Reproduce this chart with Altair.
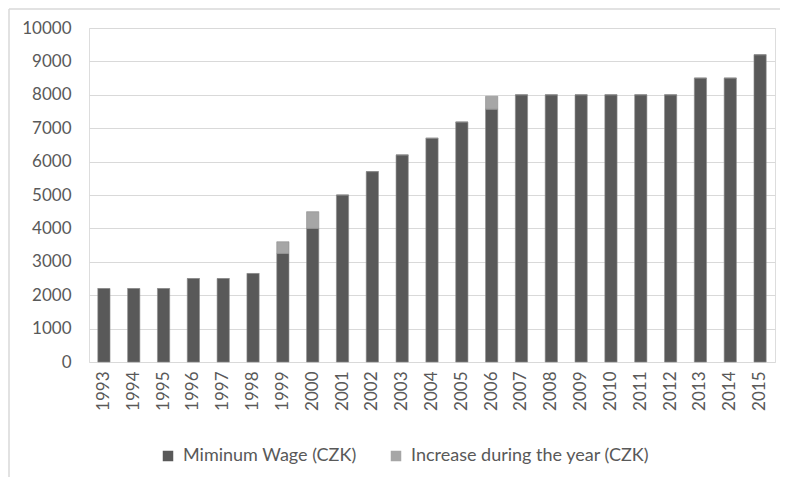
import altair as alt
import pandas as pd

years = [str(y) for y in range(1993, 2016)]
min_wage = [2200, 2200, 2200, 2500, 2500, 2650, 3250, 4000, 5000, 5700, 6200, 6700,
            7185, 7570, 8000, 8000, 8000, 8000, 8000, 8000, 8500, 8500, 9200]
increase = [0, 0, 0, 0, 0, 0, 350, 500, 0, 0, 0, 0,
            0, 385, 0, 0, 0, 0, 0, 0, 0, 0, 0]
series_names = ["Miminum Wage (CZK)", "Increase during the year (CZK)"]
series_colors = ["#595959", "#a6a6a6"]
y_ticks = list(range(0, 10001, 1000))

rows = []
for y, w, inc in zip(years, min_wage, increase):
    rows.append({"year": y, "series": series_names[0], "value": w, "ord": 0})
    rows.append({"year": y, "series": series_names[1], "value": inc, "ord": 1})
df = pd.DataFrame(rows)

FONT = "Lato"
W, H = 686, 334

bars = alt.Chart(df).mark_bar(stroke="#8c8c8c", strokeWidth=0.6).encode(
    x=alt.X("year:N", sort=years, title=None,
            scale=alt.Scale(paddingInner=0.59, paddingOuter=0.295),
            axis=alt.Axis(labelAngle=-90, ticks=False, domain=False, labelPadding=9,
                          labelFontSize=17, labelColor="#595959", labelFont=FONT)),
    y=alt.Y("value:Q", stack="zero", title=None,
            scale=alt.Scale(domain=[0, 10000], nice=False),
            axis=alt.Axis(values=y_ticks, format="d", ticks=False, domain=False, labelPadding=18,
                          labelFontSize=17, labelColor="#595959", labelFont=FONT,
                          gridColor="#d9d9d9", gridWidth=1)),
    color=alt.Color("series:N", sort=series_names,
                    scale=alt.Scale(domain=series_names, range=series_colors),
                    legend=alt.Legend(title=None, orient="none", direction="horizontal",
                                      legendX=70, legendY=419, symbolType="square",
                                      symbolSize=110, symbolStrokeWidth=0,
                                      labelFontSize=18, labelColor="#595959", labelFont=FONT,
                                      labelLimit=500, labelOffset=6, columnPadding=30)),
    order=alt.Order("ord:Q", sort="ascending"),
)

frame = alt.Data(values=[{}])
left_line = alt.Chart(frame).mark_rule(color="#d9d9d9", strokeWidth=1.5).encode(
    x=alt.value(-80), y=alt.value(-19), y2=alt.value(H + 115))
top_line = alt.Chart(frame).mark_rule(color="#d9d9d9", strokeWidth=1.5).encode(
    x=alt.value(-80), x2=alt.value(W + 6), y=alt.value(-19))

chart = alt.layer(bars, left_line, top_line).properties(
    width=W, height=H,
    autosize=alt.AutoSizeParams(type="none"),
    padding={"left": 81, "top": 20, "right": 5, "bottom": 115},
).configure_view(stroke=None).configure(background="white")

chart.save("out.html", embed_options={"renderer": "svg", "actions": False})
